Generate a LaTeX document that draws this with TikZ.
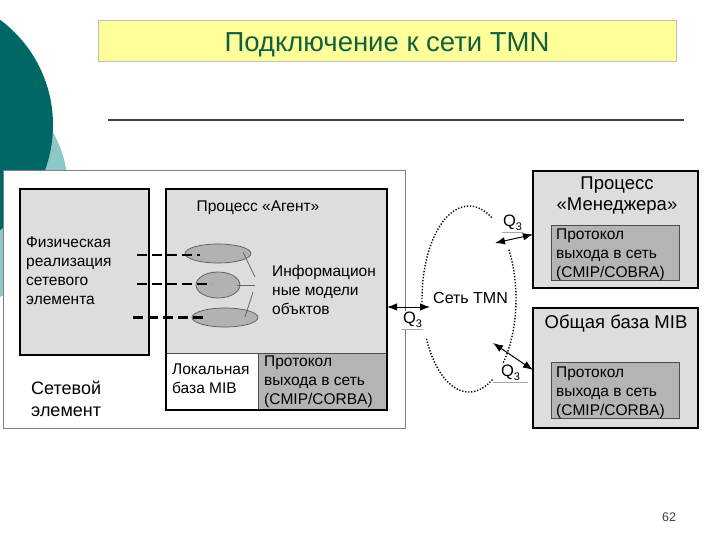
\documentclass[tikz,border=0pt]{standalone}
\usepackage{fontspec}
\setmainfont{Liberation Sans}
\usetikzlibrary{arrows.meta,shapes.geometric,calc}

\definecolor{tealdark}{RGB}{0,104,100}
\definecolor{teallight}{RGB}{140,200,198}
\definecolor{titlefill}{RGB}{255,255,153}
\definecolor{titletext}{RGB}{18,96,66}
\definecolor{boxgray}{RGB}{221,221,221}
\definecolor{protgray}{RGB}{180,180,180}
\definecolor{blobgray}{RGB}{178,178,178}

\tikzset{
  panel/.style={draw, line width=2.5pt, fill=boxgray, inner sep=0pt, outer sep=0pt, anchor=north west},
  cell/.style={draw=black!70, line width=0.6pt, inner sep=0pt, outer sep=0pt, anchor=north west},
  blob/.style={ellipse, draw=black!65, line width=0.7pt, fill=blobgray, inner sep=0pt},
  txt/.style={inner sep=0pt, align=left, anchor=north west, font=\fontsize{15.5}{19}\selectfont},
  bigtxt/.style={inner sep=0pt, align=center, anchor=north, font=\fontsize{18.5}{20.5}\selectfont},
  link/.style={line width=2.5pt, dash pattern=on 10pt off 5pt},
  lead/.style={black!60, line width=0.8pt},
  dblarr/.style={{Latex[length=10pt,width=7.5pt]}-{Latex[length=10pt,width=7.5pt]}, line width=1pt},
  ringline/.style={line width=1.4pt, dash pattern=on 1.3pt off 1.7pt},
  qlabel/.style={fill=white, inner sep=1pt, anchor=south, font=\fontsize{16.5}{18}\selectfont},
  uline/.style={black!35, line width=0.7pt}
}
\newcommand{\qthree}{Q\raisebox{-4pt}{\fontsize{11}{11}\selectfont 3}}

\begin{document}
\begin{tikzpicture}[x=1pt,y=-1pt]

\useasboundingbox (0,0) rectangle (720,540);
\begin{scope}
  \clip (0,0) rectangle (720,540);
  \fill[teallight] (-50,190) circle (118);
  \fill[tealdark] (-78,125) circle (131);
\end{scope}

% title
\node[draw=black!25, fill=titlefill, minimum width=578, minimum height=41, inner sep=0pt] (title) at (387,40.5) {};
\node[text=titletext, font=\fontsize{27.5}{30}\selectfont, inner sep=0pt, anchor=base] (titleT) at (387,52) {Подключение к сети TMN};
\draw[black!75, line width=1.5pt] (108,120) -- (684,120);

% network element
\node[draw=black!50, fill=white, line width=0.7pt, minimum width=402, minimum height=258,
      inner sep=0pt, anchor=north west] (ne) at (3,170) {};
\node[panel, minimum width=129, minimum height=166] (phys) at (20,189) {};
\node[txt] (physT) at (26,237) {Физическая\\реализация\\сетевого\\элемента};

\node[panel, minimum width=221, minimum height=221] (agent) at (166,189) {};
\node[cell, fill=white, minimum width=92, minimum height=57] (lmib) at (166,353) {};
\node[cell, fill=protgray, minimum width=129, minimum height=57] (aprot) at (258,353) {};
\draw[line width=2.5pt] (agent.north west) rectangle (agent.south east);

\node[txt, anchor=north] (agentT) at (258,201) {Процесс «Агент»};
\node[txt] (infoT) at (272,265) {Информацион\\ные модели\\объктов};
\node[txt] (lmibT) at (172,364) {Локальная\\база MIB};
\node[txt] (aprotT) at (264,356) {Протокол\\выхода в сеть\\(CMIP/CORBA)};
\node[txt, font=\fontsize{18}{22}\selectfont] (neT) at (31,381) {Сетевой\\элемент};

% object models
\node[blob, minimum width=66, minimum height=19] (e1) at (218,253.5) {};
\node[blob, minimum width=44, minimum height=26] (e2) at (218,285) {};
\node[blob, minimum width=66, minimum height=19] (e3) at (225,317.5) {};

\draw[link] ($(phys.east |- e1)+(-12,1.5)$) -- ($(e1.center)+(-18,1.5)$);
\draw[link] ($(phys.east |- e2)+(-12,-1)$) -- ($(e2.center)+(-6,-1)$);
\draw[link] ($(phys.east |- e3)+(-16,0)$) -- ($(e3.center)+(-18,0)$);

\coordinate (m1) at (255,277);
\coordinate (m2) at (255,285);
\coordinate (m3) at (253,292);
\draw[lead] ($(e1.center)+(25,-1.5)$) -- (m1);
\draw[lead] ($(e2.center)+(19,0)$) -- (m2);
\draw[lead] ($(e3.center)+(20,-0.5)$) -- (m3);

% TMN network
\coordinate (ring) at (469,299);
\foreach \a/\b in {-32/45, 60/155, 178/300}
  \draw[ringline] (ring) ++(\a:47 and 93) arc[start angle=\a, end angle=\b, x radius=47, y radius=93];
\node[txt, font=\fontsize{16}{19}\selectfont] (tmn) at (433,292) {Сеть TMN};

% manager and common MIB
\node[panel, minimum width=165, minimum height=117] (mgr) at (533,171) {};
\node[cell, fill=protgray, minimum width=128, minimum height=55] (mprot) at (551,225) {};
\node[bigtxt] (mgrT) at (617,177) {Процесс\\«Менеджера»};
\node[txt] (mprotT) at (556,229) {Протокол\\выхода в сеть\\(CMIP/COBRA)};

\node[panel, minimum width=165, minimum height=120] (mib) at (533,308) {};
\node[cell, fill=protgray, minimum width=128, minimum height=56] (bprot) at (551,362) {};
\node[bigtxt] (mibT) at (616,315) {Общая база MIB};
\node[txt] (bprotT) at (556,367) {Протокол\\выхода в сеть\\(CMIP/CORBA)};

% Q3 interfaces
\node[qlabel, minimum width=19] (qa) at (412.5,329) {\qthree};
\node[qlabel, minimum width=21] (qb) at (512.5,232) {\qthree};
\node[qlabel, minimum width=35] (qc) at (510.5,382) {\qthree};
\foreach \q in {qa,qb,qc}
  \draw[uline] (\q.south west) -- (\q.south east);

\coordinate (ta) at (430,307);
\coordinate (tb) at (495,243);
\coordinate (tc) at (493,343);
\draw[dblarr] (agent.east |- ta) -- (ta);
\draw[dblarr] (tb) -- ([yshift=-5pt]mgr.west);
\draw[dblarr] (tc) -- ([yshift=-2pt]mib.west);

\node[font=\fontsize{12.5}{14}\selectfont, text=black!75] (pg) at (669,517) {62};
\end{tikzpicture}
\end{document}
